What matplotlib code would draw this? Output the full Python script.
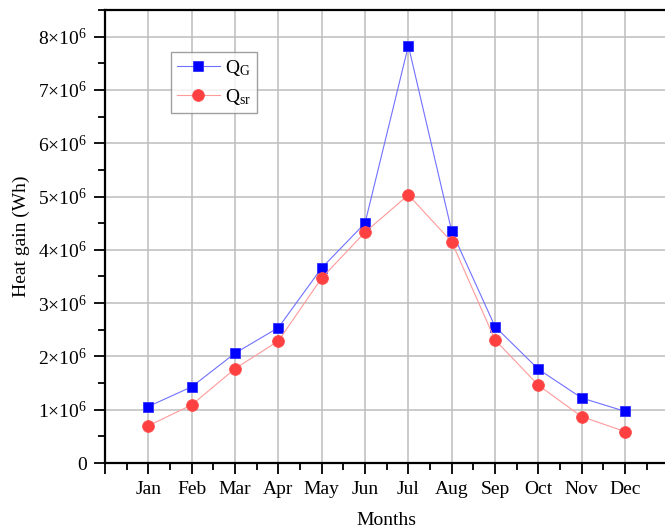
import numpy as np
import matplotlib
matplotlib.use("Agg")
import matplotlib.pyplot as plt
from matplotlib.ticker import FixedLocator, MultipleLocator, FuncFormatter

plt.rcParams['font.family'] = ['Liberation Serif', 'DejaVu Serif']
plt.rcParams['mathtext.fontset'] = 'custom'
plt.rcParams['mathtext.rm'] = 'Liberation Serif'
plt.rcParams['mathtext.it'] = 'Liberation Serif:italic'

months = ['Jan', 'Feb', 'Mar', 'Apr', 'May', 'Jun',
          'Jul', 'Aug', 'Sep', 'Oct', 'Nov', 'Dec']
q_g = [1.06e6, 1.43e6, 2.06e6, 2.54e6, 3.66e6, 4.50e6,
       7.83e6, 4.35e6, 2.56e6, 1.76e6, 1.22e6, 0.97e6]
q_sr = [0.70e6, 1.09e6, 1.77e6, 2.29e6, 3.47e6, 4.33e6,
        5.03e6, 4.15e6, 2.31e6, 1.46e6, 0.87e6, 0.59e6]

fig = plt.figure(figsize=(6.65, 5.28), dpi=100)
ax = fig.add_axes([0.158, 0.1231, 0.847, 0.858])

x = np.arange(1, len(months) + 1)
ax.plot(x, q_g, color='#7070ff', lw=0.8, marker='s', ms=7.5,
        mfc='#0000ff', mec='#3030ff', mew=0.6, label=r'Q$_{\mathrm{G}}$', zorder=3)
ax.plot(x, q_sr, color='#ff9a9a', lw=0.8, marker='o', ms=8.5,
        mfc='#ff4040', mec='#ff5050', mew=0.6, label=r'Q$_{\mathrm{sr}}$', zorder=3)

ax.set_xlim(0, 13)
ax.set_ylim(0, 8.5e6)

ax.xaxis.set_major_locator(FixedLocator(range(0, 14)))
ax.set_xticklabels([''] + months + [''])
ax.xaxis.set_minor_locator(MultipleLocator(0.5))
ax.yaxis.set_major_locator(MultipleLocator(1e6))
ax.yaxis.set_minor_locator(MultipleLocator(0.5e6))


def sci(v, pos):
    n = int(round(v / 1e6))
    if n == 0:
        return '0'
    return r'$%d{\times}10^{6}$' % n


ax.yaxis.set_major_formatter(FuncFormatter(sci))

ax.tick_params(axis='both', which='major', direction='out', length=8, width=1.3,
               labelsize=14)
ax.tick_params(axis='both', which='minor', direction='out', length=5, width=1.3)
ax.tick_params(axis='x', which='major', pad=5.3)
ax.tick_params(axis='y', which='major', pad=5)

for s in ax.spines.values():
    s.set_linewidth(1.6)
    s.set_color('black')

ax.grid(True, which='major', color='#bdbdbd', lw=1.1)
ax.set_axisbelow(True)

ax.set_xlabel('Months', fontsize=14, labelpad=10)
ax.set_ylabel('Heat gain (Wh)', fontsize=14, labelpad=6)

leg = ax.legend(loc='upper left', bbox_to_anchor=(0.117, 0.907), fontsize=14,
                frameon=True, fancybox=False, edgecolor='#888888',
                handlelength=2.2, handletextpad=0.3, borderpad=0.3,
                labelspacing=0.45, borderaxespad=0)
leg.get_frame().set_linewidth(1.0)

fig.savefig('out.png', dpi=100)
